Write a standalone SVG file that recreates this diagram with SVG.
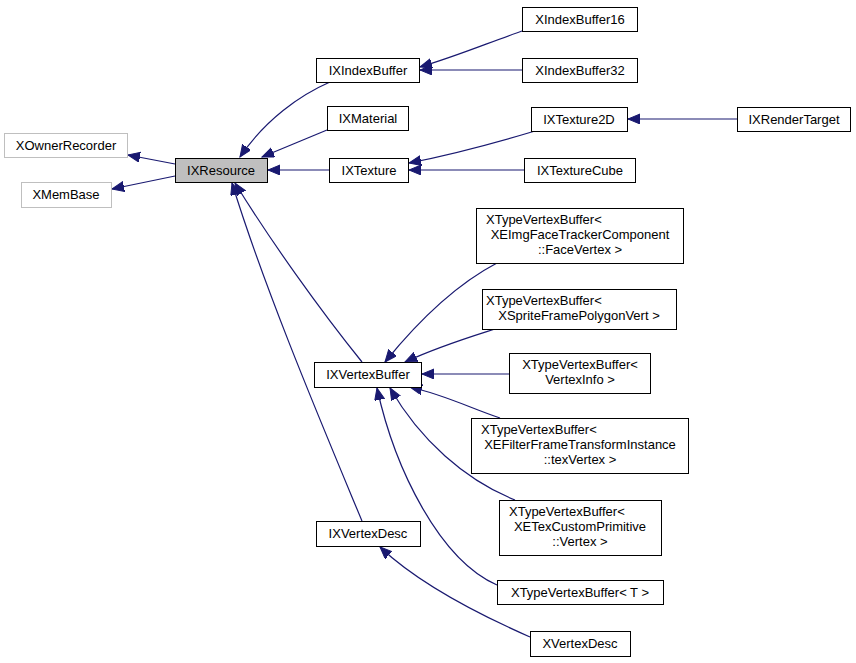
<svg xmlns="http://www.w3.org/2000/svg" width="856" height="663" viewBox="0 0 856 663">
<style>
.n rect{fill:#fff;stroke:#000;stroke-width:1}
.g rect{fill:#fff;stroke:#bfbfbf;stroke-width:1}
.f rect{fill:#bfbfbf;stroke:#000;stroke-width:1}
text{font-family:"Liberation Sans",Arial,sans-serif;font-size:13px;fill:#000}
.e path{fill:none;stroke:#191970;stroke-width:1.2}
</style>
<defs>
<marker id="a" markerUnits="userSpaceOnUse" markerWidth="14" markerHeight="12" refX="12" refY="5" orient="auto">
<path d="M0,0 L12,5 L0,10 z" fill="#191970" stroke="#191970"/>
</marker>
</defs>
<rect width="856" height="663" fill="#fff"/>
<g class="e" marker-end="url(#a)">
<path d="M175,164 L128,155" marker-end="url(#a)"/>
<path d="M175,176 L112,189" marker-end="url(#a)"/>
<path d="M330,82 C300,95 265,120 240,157" marker-end="url(#a)"/>
<path d="M327,130 L262,157" marker-end="url(#a)"/>
<path d="M329,170 L268,170" marker-end="url(#a)"/>
<path d="M362,362 C320,310 270,240 235,183" marker-end="url(#a)"/>
<path d="M362,521 C320,420 265,290 232,183" marker-end="url(#a)"/>
<path d="M525,30 C490,42 460,55 420,67" marker-end="url(#a)"/>
<path d="M522,70 L420,70" marker-end="url(#a)"/>
<path d="M535,131 C495,143 450,155 409,163" marker-end="url(#a)"/>
<path d="M524,170 L409,170" marker-end="url(#a)"/>
<path d="M737,119 L628,119" marker-end="url(#a)"/>
<path d="M497,263 C455,285 415,325 385,362" marker-end="url(#a)"/>
<path d="M495,329 C470,337 440,346 405,362" marker-end="url(#a)"/>
<path d="M509,374 L422,374" marker-end="url(#a)"/>
<path d="M500,418 C470,408 445,395 410,387" marker-end="url(#a)"/>
<path d="M515,500 C465,480 420,440 390,388" marker-end="url(#a)"/>
<path d="M497,585 C440,560 395,470 377,388" marker-end="url(#a)"/>
<path d="M530,637 C480,615 420,585 380,547" marker-end="url(#a)"/>
</g>
<g id="XOwnerRecorder" class="g"><rect x="4.5" y="133.5" width="123" height="24"/><text x="66" y="150" text-anchor="middle">XOwnerRecorder</text></g>
<g id="XMemBase" class="g"><rect x="21.5" y="182.5" width="90" height="25"/><text x="66" y="199" text-anchor="middle">XMemBase</text></g>
<g id="IXResource" class="f"><rect x="175.5" y="158.5" width="92" height="24"/><text x="221" y="175" text-anchor="middle">IXResource</text></g>
<g id="IXIndexBuffer" class="n"><rect x="316.5" y="58.5" width="103" height="24"/><text x="368" y="75" text-anchor="middle">IXIndexBuffer</text></g>
<g id="IXMaterial" class="n"><rect x="327.5" y="106.5" width="81" height="24"/><text x="368" y="123" text-anchor="middle">IXMaterial</text></g>
<g id="IXTexture" class="n"><rect x="329.5" y="158.5" width="79" height="24"/><text x="369" y="175" text-anchor="middle">IXTexture</text></g>
<g id="XIndexBuffer16" class="n"><rect x="522.5" y="7.5" width="115" height="24"/><text x="580" y="24" text-anchor="middle">XIndexBuffer16</text></g>
<g id="XIndexBuffer32" class="n"><rect x="522.5" y="58.5" width="115" height="24"/><text x="580" y="75" text-anchor="middle">XIndexBuffer32</text></g>
<g id="IXTexture2D" class="n"><rect x="531.5" y="107.5" width="96" height="24"/><text x="579" y="124" text-anchor="middle">IXTexture2D</text></g>
<g id="IXRenderTarget" class="n"><rect x="737.5" y="107.5" width="113" height="24"/><text x="794" y="124" text-anchor="middle">IXRenderTarget</text></g>
<g id="IXTextureCube" class="n"><rect x="524.5" y="158.5" width="111" height="24"/><text x="580" y="175" text-anchor="middle">IXTextureCube</text></g>
<g id="XTVB_Face" class="n"><rect x="476.5" y="208.5" width="207" height="55"/><text x="486" y="224">XTypeVertexBuffer&lt;</text><text x="580" y="239" text-anchor="middle">XEImgFaceTrackerComponent</text><text x="580" y="254" text-anchor="middle">::FaceVertex &gt;</text></g>
<g id="XTVB_Sprite" class="n"><rect x="482.5" y="289.5" width="194" height="40"/><text x="486" y="305">XTypeVertexBuffer&lt;</text><text x="579" y="320" text-anchor="middle">XSpriteFramePolygonVert &gt;</text></g>
<g id="XTVB_VertexInfo" class="n"><rect x="509.5" y="353.5" width="141" height="40"/><text x="580" y="369" text-anchor="middle">XTypeVertexBuffer&lt;</text><text x="580" y="384" text-anchor="middle">VertexInfo &gt;</text></g>
<g id="XTVB_Filter" class="n"><rect x="471.5" y="418.5" width="217" height="55"/><text x="481" y="434">XTypeVertexBuffer&lt;</text><text x="580" y="449" text-anchor="middle">XEFilterFrameTransformInstance</text><text x="580" y="464" text-anchor="middle">::texVertex &gt;</text></g>
<g id="XTVB_TexCustom" class="n"><rect x="499.5" y="500.5" width="162" height="55"/><text x="509" y="516">XTypeVertexBuffer&lt;</text><text x="580" y="531" text-anchor="middle">XETexCustomPrimitive</text><text x="580" y="546" text-anchor="middle">::Vertex &gt;</text></g>
<g id="XTVB_T" class="n"><rect x="497.5" y="580.5" width="166" height="24"/><text x="580" y="597" text-anchor="middle">XTypeVertexBuffer&lt; T &gt;</text></g>
<g id="IXVertexBuffer" class="n"><rect x="314.5" y="362.5" width="107" height="25"/><text x="368" y="379" text-anchor="middle">IXVertexBuffer</text></g>
<g id="IXVertexDesc" class="n"><rect x="316.5" y="521.5" width="104" height="25"/><text x="368" y="538" text-anchor="middle">IXVertexDesc</text></g>
<g id="XVertexDesc" class="n"><rect x="530.5" y="631.5" width="100" height="25"/><text x="580" y="648" text-anchor="middle">XVertexDesc</text></g>
</svg>
